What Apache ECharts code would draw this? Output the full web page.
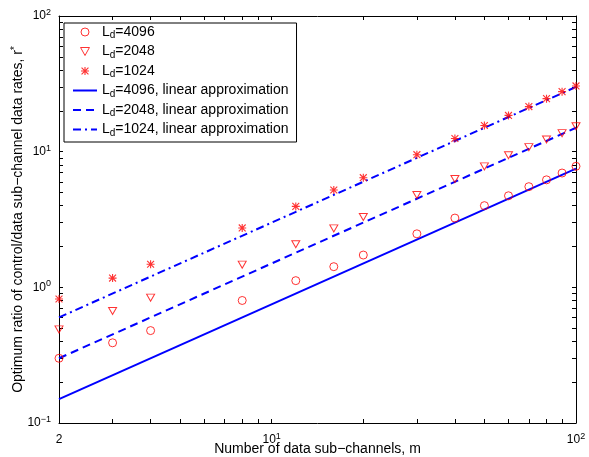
<!DOCTYPE html>
<html><head><meta charset="utf-8">
<script src="https://cdn.jsdelivr.net/npm/echarts@6/dist/echarts.min.js"></script>
<style>html,body{margin:0;padding:0;background:#fff}#c{width:589px;height:457px}</style>
</head><body><div id="c"></div>
<script>
// Data
var mValues = [2, 3, 4, 8, 12, 16, 20, 30, 40, 50, 60, 70, 80, 90, 100];
var r4096 = [0.30, 0.39, 0.48, 0.80, 1.12, 1.42, 1.73, 2.48, 3.24, 4.0, 4.73, 5.52, 6.2, 6.96, 7.8];
var r2048 = [0.49, 0.67, 0.84, 1.47, 2.08, 2.72, 3.30, 4.79, 6.29, 7.79, 9.4, 10.8, 12.3, 13.7, 15.4];
var r1024 = [0.82, 1.17, 1.48, 2.74, 3.95, 5.22, 6.43, 9.5, 12.5, 15.6, 18.5, 21.5, 24.6, 27.7, 30.5];
var lineM = [2, 100];
var lin4096 = [0.15, 7.5];
var lin2048 = [0.30, 15];
var lin1024 = [0.60, 30];
var seriesNames = ['L_d=4096', 'L_d=2048', 'L_d=1024',
  'L_d=4096, linear approximation', 'L_d=2048, linear approximation', 'L_d=1024, linear approximation'];
var xTickValues = [2,3,4,5,6,7,8,9,10,20,30,40,50,60,70,80,90,100];
var yTickValues = [0.1,0.2,0.3,0.4,0.5,0.6,0.7,0.8,0.9,1,2,3,4,5,6,7,8,9,10,20,30,40,50,60,70,80,90,100];
var xLabelValues = [2, 10, 100];
var yLabelValues = [0.1, 1, 10, 100];

function pairs(xs, ys){ return xs.map(function(x,i){ return [x, ys[i]]; }); }
var FONT = 'Liberation Sans, Arial, sans-serif';
function powLabel(v){
  var e = Math.log10(v), re = Math.round(e);
  if (Math.abs(e - re) < 1e-6) return '{b|10}{s|' + (re < 0 ? '\u2212' + (-re) : re) + '}';
  return '{b|' + Math.round(v * 1000) / 1000 + '}';
}
var labelRich = {
  b: {fontFamily: FONT, fontSize: 12, color: '#000', lineHeight: 16},
  s: {fontFamily: FONT, fontSize: 9, color: '#000', lineHeight: 8, verticalAlign: 'top'}
};
var red = '#ff0000', blue = '#0000ff';
var starPath = 'path://M4.3,0 H5.7 V10 H4.3 Z M0,4.3 H10 V5.7 H0 Z M1.2,0.2 L9.8,8.8 L8.8,9.8 L0.2,1.2 Z M8.8,0.2 L9.8,1.2 L1.2,9.8 L0.2,8.8 Z';
var triPath = 'path://M0,0 L10,0 L5,9 Z';

function baseAxis(extra){
  var a = {
    type: 'log', logBase: 10,
    axisLine: {show: true, onZero: false, lineStyle: {color: '#000', width: 1}},
    axisTick: {show: true, inside: true, length: 4, lineStyle: {color: '#000', width: 1}},
    splitLine: {show: false},
    axisLabel: {show: false},
    minorTick: {show: false},
    nameMoveOverlap: false
  };
  for (var k in extra) a[k] = extra[k];
  return a;
}

var legendData = seriesNames.map(function(n, i){
  return i < 2 ? {name: n, itemStyle: {borderWidth: 1}} : (i < 3 ? {name: n} : {name: n, itemStyle: {opacity: 0}});
});

var chart = echarts.init(document.getElementById('c'), null, {renderer: 'canvas'});
chart.setOption({
  animation: false,
  backgroundColor: '#fff',
  grid: {left: 59, right: 13, top: 16, bottom: 34, containLabel: false, outerBoundsMode: 'none'},
  xAxis: [
    baseAxis({position: 'bottom', min: 2, max: 100,
      axisTick: {show: true, inside: true, length: 4, customValues: xTickValues, lineStyle: {color: '#000'}},
      axisLabel: {show: true, customValues: xLabelValues, margin: 9, formatter: function(v){ return powLabel(v); }, rich: labelRich},
      name: 'Number of data sub\u2212channels, m', nameLocation: 'middle', nameGap: 19,
      nameTextStyle: {fontFamily: FONT, fontSize: 14, color: '#000'}}),
    baseAxis({position: 'top', min: 2, max: 100,
      axisTick: {show: true, inside: true, length: 4, customValues: xTickValues, lineStyle: {color: '#000'}}})
  ],
  yAxis: [
    baseAxis({position: 'left', min: 0.1, max: 100,
      axisTick: {show: true, inside: true, length: 4, customValues: yTickValues, lineStyle: {color: '#000'}},
      axisLabel: {show: true, customValues: yLabelValues, margin: 8, formatter: function(v){ return powLabel(v); }, rich: labelRich},
      name: '{t|Optimum ratio of control/data sub\u2212channel data rates, r}{p|*}', nameLocation: 'middle', nameGap: 33,
      nameTextStyle: {rich: {
        t: {fontFamily: FONT, fontSize: 14, color: '#000', lineHeight: 16},
        p: {fontFamily: FONT, fontSize: 10, color: '#000', lineHeight: 8, verticalAlign: 'top'}
      }}}),
    baseAxis({position: 'right', min: 0.1, max: 100,
      axisTick: {show: true, inside: true, length: 4, customValues: yTickValues, lineStyle: {color: '#000'}}})
  ],
  legend: {
    orient: 'vertical', left: 64, top: 23,
    backgroundColor: '#fff', borderColor: '#000', borderWidth: 1,
    padding: [2, 8, 4, 8], itemGap: 4, itemWidth: 24, itemHeight: 8,
    data: legendData,
    formatter: function(name){
      var rest = name.slice(3);
      return '{n|L}{d|d}{n|' + rest + '}';
    },
    textStyle: {rich: {
      n: {fontFamily: FONT, fontSize: 14, color: '#000', lineHeight: 17},
      d: {fontFamily: FONT, fontSize: 10, color: '#000', lineHeight: 8, verticalAlign: 'bottom'}
    }}
  },
  series: [
    {name: seriesNames[0], type: 'scatter', data: pairs(mValues, r4096), symbol: 'circle', symbolSize: 8,
     itemStyle: {color: 'rgba(255,255,255,0)', borderColor: red, borderWidth: 1}, z: 3},
    {name: seriesNames[1], type: 'scatter', data: pairs(mValues, r2048), symbol: triPath, symbolSize: [8, 7],
     itemStyle: {color: 'rgba(255,255,255,0)', borderColor: red, borderWidth: 1}, z: 3},
    {name: seriesNames[2], type: 'scatter', data: pairs(mValues, r1024), symbol: starPath, symbolSize: 8,
     itemStyle: {color: red}, z: 3},
    {name: seriesNames[3], type: 'line', data: pairs(lineM, lin4096), symbol: 'none', showSymbol: false,
     lineStyle: {color: blue, width: 2, type: 'solid'}, itemStyle: {color: blue}, z: 2},
    {name: seriesNames[4], type: 'line', data: pairs(lineM, lin2048), symbol: 'none', showSymbol: false,
     lineStyle: {color: blue, width: 2, type: [8, 5]}, itemStyle: {color: blue}, z: 2},
    {name: seriesNames[5], type: 'line', data: pairs(lineM, lin1024), symbol: 'none', showSymbol: false,
     lineStyle: {color: blue, width: 2, type: [8, 4, 2, 4]}, itemStyle: {color: blue}, z: 2}
  ]
});
</script></body></html>
